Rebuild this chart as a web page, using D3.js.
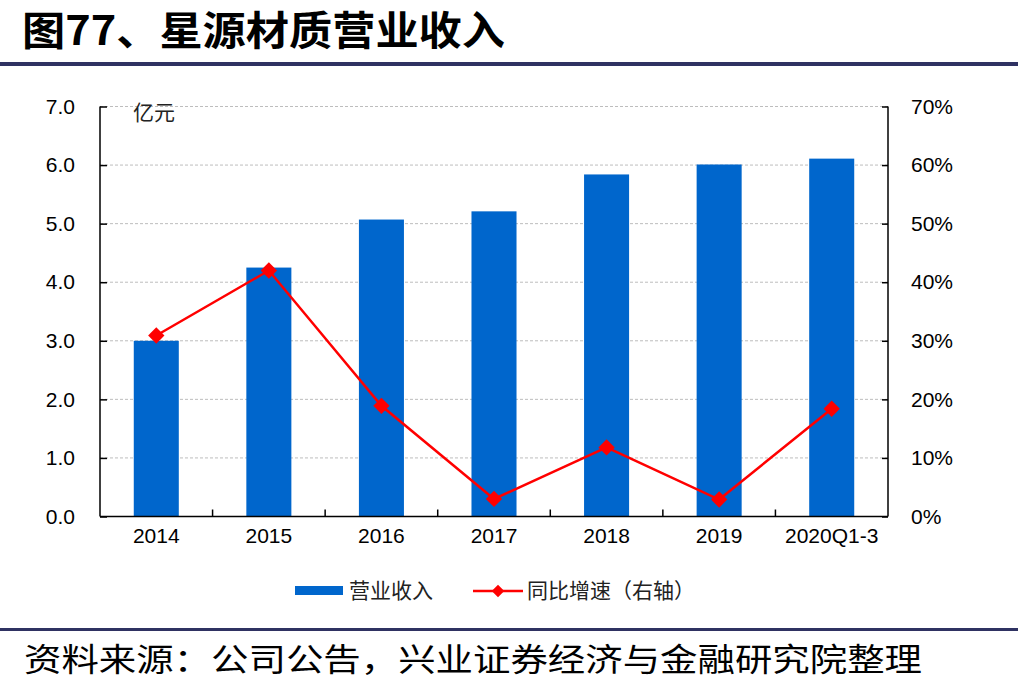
<!DOCTYPE html>
<html><head><meta charset="utf-8">
<script src="https://cdn.jsdelivr.net/npm/d3@7"></script>
<style>
body{margin:0;background:#fff;}
svg{display:block;}
</style></head>
<body>
<svg id="c" width="1018" height="691"></svg>
<script>
const categories = ["2014","2015","2016","2017","2018","2019","2020Q1-3"];
const revenue = [3.0, 4.25, 5.07, 5.21, 5.84, 6.01, 6.11];
const growth = [30.9, 42.0, 18.9, 3.0, 11.8, 2.9, 18.4];
const leftTicks = [0,1,2,3,4,5,6,7];
const rightTicks = [0,10,20,30,40,50,60,70];
const titleText = "图77、星源材质营业收入";
const sourceText = "资料来源：公司公告，兴业证券经济与金融研究院整理";
const unitText = "亿元";
const legendLabels = ["营业收入","同比增速（右轴）"];

const svg = d3.select("#c");
const L = 100, R = 888, T = 106.5, B = 516.5;
const numFont = "'Liberation Sans', Arial, sans-serif";
const cjkFont = "'Noto Sans CJK SC', sans-serif";
const blue = "#0066CC", red = "#FF0000", navy = "#2F3262";

// title
svg.append("text").attr("x",22).attr("y",45).attr("font-family",cjkFont).attr("font-weight","bold")
  .attr("font-size",40).attr("textLength",483).attr("lengthAdjust","spacingAndGlyphs").attr("fill","#000").text(titleText);
svg.append("rect").attr("x",0).attr("y",62).attr("width",1018).attr("height",4).attr("fill",navy);
svg.append("rect").attr("x",0).attr("y",628).attr("width",1018).attr("height",3).attr("fill",navy);
svg.append("text").attr("x",24).attr("y",671).attr("font-family",cjkFont)
  .attr("font-size",32).attr("textLength",898).attr("lengthAdjust","spacingAndGlyphs").attr("fill","#000").text(sourceText);

const x = d3.scaleBand().domain(categories).range([L,R]).paddingInner(0.6).paddingOuter(0.3);
const xc = d3.scaleBand().domain(categories).range([L,R]);
const yL = d3.scaleLinear().domain([0,7]).range([B,T]);
const yR = d3.scaleLinear().domain([0,70]).range([B,T]);

// gridlines
svg.append("g").selectAll("line").data(leftTicks.filter(d=>d>0)).join("line")
  .attr("x1",L).attr("x2",R).attr("y1",d=>yL(d)).attr("y2",d=>yL(d))
  .attr("stroke","#BDBDBD").attr("stroke-width",1).attr("stroke-dasharray","3,2");

// bars
svg.append("g").selectAll("rect").data(revenue).join("rect")
  .attr("x",(d,i)=>x(categories[i])).attr("width",x.bandwidth())
  .attr("y",d=>yL(d)).attr("height",d=>B-yL(d)).attr("fill",blue);

// left axis
const gl = svg.append("g").attr("transform",`translate(${L},0)`)
  .call(d3.axisLeft(yL).tickValues(leftTicks).tickSize(-7).tickPadding(25).tickFormat(d3.format(".1f")));
gl.select(".domain").attr("stroke","#000").attr("stroke-width",1.5).attr("d",`M0,${T}V${B}`);
gl.selectAll(".tick line").attr("stroke","#000").attr("stroke-width",1.5);
gl.selectAll("text").attr("font-family",numFont).attr("font-size",21).attr("fill","#000");

// right axis
const gr = svg.append("g").attr("transform",`translate(${R},0)`)
  .call(d3.axisRight(yR).tickValues(rightTicks).tickSize(-6).tickPadding(23).tickFormat(d=>d+"%"));
gr.select(".domain").attr("stroke","#000").attr("stroke-width",1.5).attr("d",`M0,${T}V${B}`);
gr.selectAll(".tick line").attr("stroke","#000").attr("stroke-width",1.5);
gr.selectAll("text").attr("font-family",numFont).attr("font-size",21).attr("fill","#000");

// bottom axis
const gb = svg.append("g").attr("transform",`translate(0,${B})`)
  .call(d3.axisBottom(xc).tickSize(0).tickPadding(12));
gb.select(".domain").attr("stroke","#000").attr("stroke-width",1.5).attr("d",`M${L},0H${R}`);
gb.selectAll("text").attr("font-family",numFont).attr("font-size",21).attr("fill","#000");
svg.append("g").selectAll("line").data(categories.slice(1)).join("line")
  .attr("x1",d=>xc(d)).attr("x2",d=>xc(d)).attr("y1",B).attr("y2",B-7)
  .attr("stroke","#000").attr("stroke-width",1.5);

// unit label
svg.append("text").attr("x",133).attr("y",120).attr("font-family",cjkFont).attr("font-size",21)
  .attr("fill","#222").text(unitText);

// line
const cx = i => xc(categories[i]) + xc.bandwidth()/2;
const line = d3.line().x((d,i)=>cx(i)).y(d=>yR(d));
svg.append("path").datum(growth).attr("d",line).attr("fill","none").attr("stroke",red).attr("stroke-width",2.5);
const diamond = d3.symbol().type(d3.symbolDiamond2).size(170);
svg.append("g").selectAll("path").data(growth).join("path")
  .attr("d",diamond).attr("transform",(d,i)=>`translate(${cx(i)},${yR(d)})`)
  .attr("fill",red);

// legend
svg.append("rect").attr("x",295).attr("y",586).attr("width",48).attr("height",9).attr("fill",blue);
svg.append("text").attr("x",349).attr("y",598).attr("font-family",cjkFont).attr("font-size",21)
  .attr("fill","#222").text(legendLabels[0]);
svg.append("line").attr("x1",473).attr("x2",523).attr("y1",591).attr("y2",591).attr("stroke",red).attr("stroke-width",2.5);
svg.append("path").attr("d",d3.symbol().type(d3.symbolDiamond2).size(100)).attr("transform","translate(498,591)").attr("fill",red);
svg.append("text").attr("x",527).attr("y",598).attr("font-family",cjkFont).attr("font-size",21)
  .attr("fill","#222").text(legendLabels[1]);
</script>
</body></html>
